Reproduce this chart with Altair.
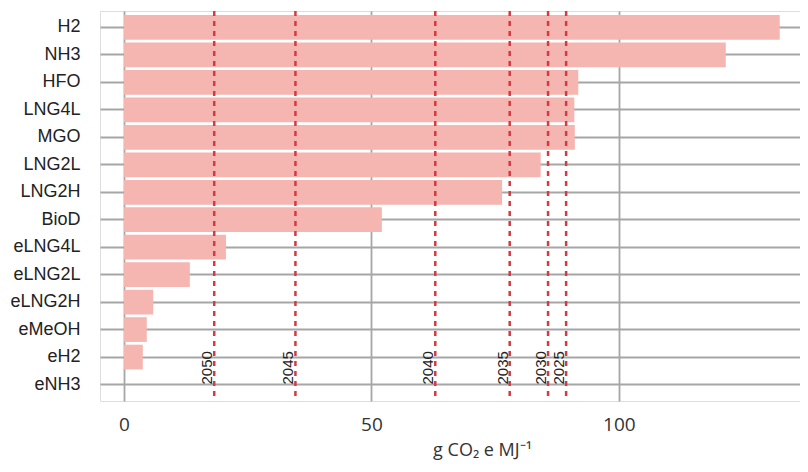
import altair as alt
import pandas as pd

fuels = ["H2", "NH3", "HFO", "LNG4L", "MGO", "LNG2L", "LNG2H", "BioD",
         "eLNG4L", "eLNG2L", "eLNG2H", "eMeOH", "eH2", "eNH3"]
intensity = [132.5, 121.6, 91.8, 91.0, 91.1, 84.2, 76.4, 52.1,
             20.6, 13.3, 5.9, 4.6, 3.8, 0.0]

years = ["2025", "2030", "2035", "2040", "2045", "2050"]
targets = [89.34, 85.69, 77.94, 62.90, 34.64, 18.23]

x_ticks = [0, 50, 100]

bars_df = pd.DataFrame({"fuel": fuels, "value": intensity})
lines_df = pd.DataFrame({"year": years, "target": targets})

xscale = alt.Scale(domain=[-4.85, 136.6], nice=False, zero=False)
yscale = alt.Scale(domain=fuels, paddingInner=0.1, paddingOuter=0.15)

GRID = dict(grid=True, gridColor="#a6a6a6", gridWidth=1.8, gridOpacity=1)

bars = alt.Chart(bars_df).mark_bar(color="#f5b5b0").encode(
    x=alt.X("value:Q", scale=xscale,
            axis=alt.Axis(values=x_ticks, title="g CO₂ e MJ⁻¹",
                          ticks=False, domain=False, labelPadding=14,
                          labelFont="Open Sans", labelFontSize=19,
                          labelColor="#333333", titleFont="Open Sans",
                          titleFontSize=18, titleFontWeight="normal",
                          titleColor="#333333", titlePadding=7,
                          titleX=382, **GRID)),
    x2=alt.datum(0),
    y=alt.Y("fuel:N", scale=yscale, sort=fuels,
            axis=alt.Axis(title=None, ticks=False, domain=False,
                          labelPadding=20, labelFont="Liberation Sans",
                          labelFontSize=18, labelColor="#222222", **GRID)),
)

rules = alt.Chart(lines_df).mark_rule(
    color="#d9383e", strokeDash=[5, 5], strokeWidth=2.5
).encode(x=alt.X("target:Q", scale=xscale))

labels = alt.Chart(lines_df).mark_text(
    angle=270, align="left", baseline="alphabetic", dy=-2,
    font="Liberation Sans", fontSize=15, color="#222222"
).encode(
    x=alt.X("target:Q", scale=xscale),
    y=alt.Y(datum="eNH3", scale=yscale),
    text="year:N",
)

chart = alt.layer(bars, rules, labels).properties(
    width=700, height=390,
    autosize=alt.AutoSizeParams(type="none"),
    padding={"left": 92, "right": 0, "top": 3, "bottom": 63},
).configure_view(stroke=None).configure(background="white")

chart.save("out.html", embed_options={"renderer": "svg", "actions": False})
